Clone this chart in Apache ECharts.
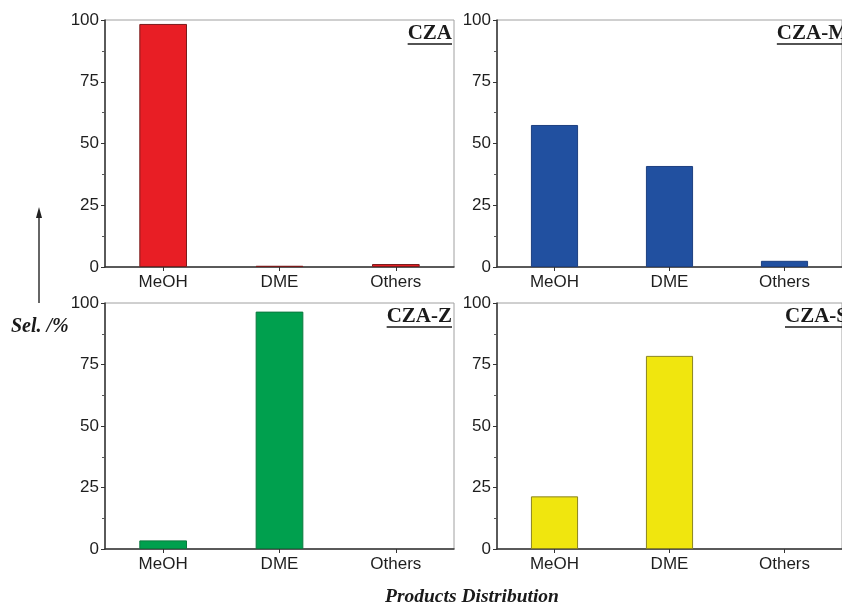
<!DOCTYPE html>
<html>
<head>
<meta charset="utf-8">
<script src="https://cdn.jsdelivr.net/npm/echarts@6/dist/echarts.min.js"></script>
<style>
  html, body { margin: 0; padding: 0; background: #fff; }
  #main { width: 842px; height: 606px; }
</style>
</head>
<body>
<div id="main"></div>
<script>
// data
var categories = ['MeOH', 'DME', 'Others'];
var panelNames = ['CZA', 'CZA-M', 'CZA-Z', 'CZA-S'];
var czaValues = [98.4, 0.5, 1.2];
var czaMValues = [57.5, 40.9, 2.5];
var czaZValues = [3.5, 96.5, 0];
var czaSValues = [21.4, 78.5, 0];
var fillColors = ['#e81e25', '#2150a0', '#00a04e', '#f0e60e'];
var edgeColors = ['#7a1b1b', '#1d3f80', '#0a7a3e', '#8a8420'];

var allValues = [czaValues, czaMValues, czaZValues, czaSValues];

// panel boxes
var boxes = [
  { left: 105, top: 20, width: 349, height: 247 },
  { left: 497, top: 20, width: 346, height: 247 },
  { left: 105, top: 303, width: 349, height: 246 },
  { left: 497, top: 303, width: 346, height: 246 }
];

var myChart = echarts.init(document.getElementById('main'), null, { renderer: 'canvas' });

var grids = [], xAxes = [], yAxes = [], series = [], graphics = [];

// measure text for underline
var cv = document.createElement('canvas').getContext('2d');
var titleFont = 'bold 21px "Liberation Serif", "Times New Roman", serif';
cv.font = titleFont;
var labelFont = '"Liberation Sans", Arial, sans-serif';

boxes.forEach(function (b, i) {
  grids.push({
    left: b.left, top: b.top, width: b.width, height: b.height,
    show: true, borderColor: '#a0a0a0', borderWidth: 1, backgroundColor: 'transparent'
  });
  xAxes.push({
    type: 'category',
    gridIndex: i,
    data: categories,
    axisLine: { lineStyle: { color: '#333', width: 1.5 } },
    axisTick: { show: true, alignWithLabel: true, length: 4, lineStyle: { color: '#333' } },
    axisLabel: { color: '#1e1e1e', fontSize: 17, margin: 7, fontFamily: labelFont },
    splitLine: { show: false }
  });
  yAxes.push({
    type: 'value',
    gridIndex: i,
    min: 0, max: 100, interval: 25,
    axisLine: { show: true, lineStyle: { color: '#333', width: 1.5 } },
    axisTick: { show: true, length: 4, lineStyle: { color: '#333' } },
    minorTick: { show: true, splitNumber: 2, length: 3, lineStyle: { color: '#555' } },
    axisLabel: { color: '#1e1e1e', fontSize: 17, margin: 6, fontFamily: labelFont },
    splitLine: { show: false }
  });
  series.push({
    type: 'bar',
    xAxisIndex: i,
    yAxisIndex: i,
    barWidth: '41%',
    data: allValues[i].map(function (v) {
      return v > 0 ? v : { value: v, itemStyle: { borderWidth: 0 } };
    }),
    itemStyle: { color: fillColors[i], borderColor: edgeColors[i], borderWidth: 1 },
    silent: true
  });

  var name = panelNames[i];
  var w = cv.measureText(name).width;
  var right = (i % 2 === 0) ? 452 : 848;
  var ty = b.top + 3;
  graphics.push({
    type: 'text',
    left: right - w, top: ty,
    style: { text: name, font: titleFont, fill: '#1a1a1a' }
  });
  graphics.push({
    type: 'line',
    shape: { x1: right - w, y1: ty + 21, x2: right, y2: ty + 21 },
    style: { stroke: '#1a1a1a', lineWidth: 1.5 }
  });
});

// y arrow and labels
graphics.push({
  type: 'line',
  shape: { x1: 39, y1: 216, x2: 39, y2: 303 },
  style: { stroke: '#333', lineWidth: 1.5 }
});
graphics.push({
  type: 'polygon',
  shape: { points: [[39, 207], [36, 218], [42, 218]] },
  style: { fill: '#222' }
});
graphics.push({
  type: 'text',
  left: 11, top: 317,
  style: { text: 'Sel. /%', font: 'italic bold 20px "Liberation Serif", "Times New Roman", serif', fill: '#1a1a1a' }
});
graphics.push({
  type: 'text',
  left: 385, top: 587,
  style: { text: 'Products Distribution', font: 'italic bold 19.5px "Liberation Serif", "Times New Roman", serif', fill: '#1a1a1a' }
});

var option = {
  backgroundColor: '#ffffff',
  animation: false,
  grid: grids,
  xAxis: xAxes,
  yAxis: yAxes,
  series: series,
  graphic: graphics
};

myChart.setOption(option);
</script>
</body>
</html>
